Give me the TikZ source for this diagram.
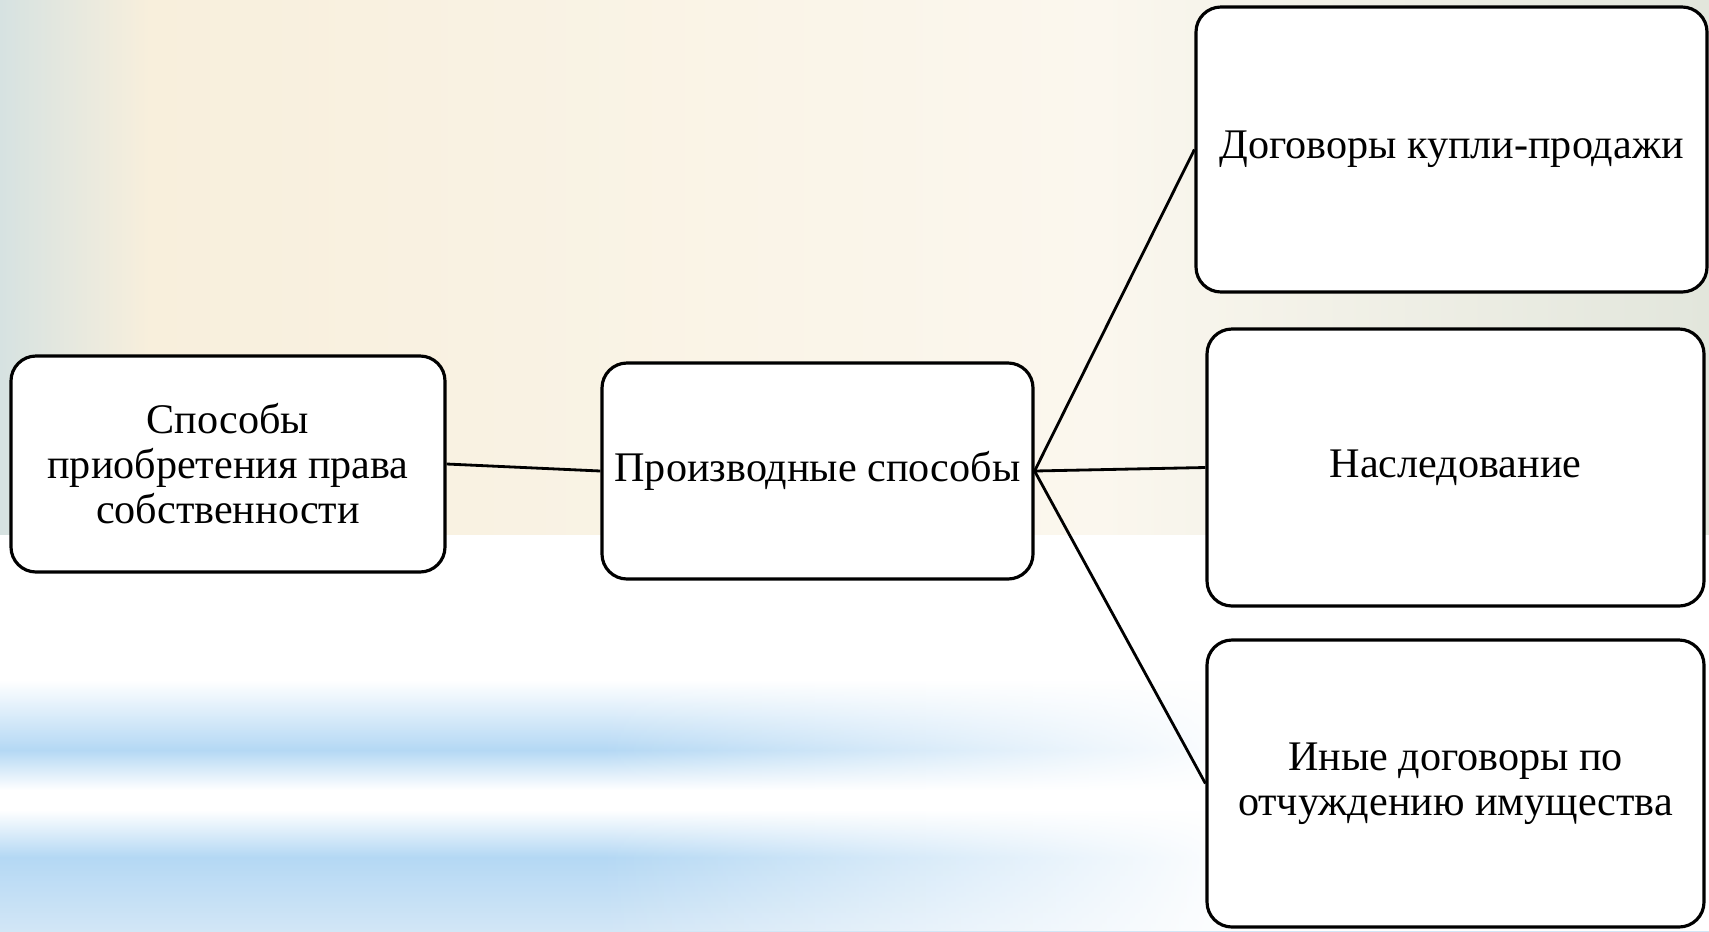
\documentclass[tikz,border=0pt]{standalone}
\usepackage{fontspec}
\setmainfont{Liberation Serif}
\usepackage{tikz}
\usetikzlibrary{positioning, fadings}

\definecolor{paperleft}{HTML}{D6E2E1}
\definecolor{papermid}{HTML}{F8EFDC}
\definecolor{paperlight}{HTML}{FBF7EE}
\definecolor{paperright}{HTML}{E2E6DC}
\definecolor{skyblue}{HTML}{B4D8F4}
\definecolor{skypale}{HTML}{D2E6F6}

\begin{document}
\begin{tikzpicture}[
    on grid,
    box/.style={draw, line width=0.9pt, rounded corners=0.25cm, fill=white,
        align=center, inner sep=2pt, font=\fontsize{12}{12.8}\selectfont},
    link/.style={line width=0.8pt}
]
    % Background
    \useasboundingbox (0,0) rectangle (17.09,9.31);
    \fill[white] (0,0) rectangle (17.09,9.31);
    \shade[left color=paperleft, right color=papermid] (0,3.97) rectangle (1.5,9.31);
    \shade[left color=papermid, right color=paperlight] (1.5,3.97) rectangle (11,9.31);
    \shade[left color=paperlight, right color=paperright] (11,3.97) rectangle (17.09,9.31);
    \shade[top color=white, bottom color=skyblue] (0,2.51) rectangle (17.09,1.81);
    \shade[top color=skyblue, bottom color=white] (0,1.81) rectangle (17.09,1.41);
    \shade[top color=white, bottom color=skyblue] (0,1.21) rectangle (17.09,0.74);
    \shade[top color=skyblue, bottom color=skypale] (0,0.74) rectangle (17.09,0);
    \fill[white, path fading=west] (6,0) rectangle (12.5,2.6);
    \fill[white] (12.5,0) rectangle (17.09,2.6);

    % Boxes
    \node[box, minimum width=4.34cm, minimum height=2.16cm] (sposoby) at (2.28,4.67)
        {Способы\\приобретения права\\собственности};
    \node[box, minimum width=4.31cm, minimum height=2.16cm, right=5.895cm of sposoby, yshift=-0.07cm] (proizv)
        {Производные способы};
    \node[box, minimum width=4.97cm, minimum height=2.77cm, right=6.38cm of proizv, yshift=0.035cm] (nasled)
        {Наследование};
    \node[box, minimum width=5.11cm, minimum height=2.85cm, above=3.18cm of nasled, xshift=-0.04cm] (kuplya)
        {Договоры купли-продажи};
    \node[box, minimum width=4.97cm, minimum height=2.87cm, below=3.16cm of nasled] (inye)
        {Иные договоры по\\отчуждению имущества};

    % Connections
    \path[link]
        (sposoby.east) edge (proizv.west)
        (proizv.east) edge (kuplya.west)
        (proizv.east) edge (nasled.west)
        (proizv.east) edge (inye.west);
\end{tikzpicture}
\end{document}
